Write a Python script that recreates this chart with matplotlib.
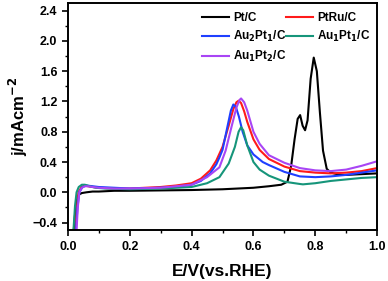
import matplotlib.pyplot as plt
from matplotlib.ticker import MultipleLocator

plt.rcParams['font.family'] = ['Liberation Sans', 'DejaVu Sans']
plt.rcParams['font.weight'] = 'bold'
plt.rcParams['mathtext.default'] = 'bf'

# Pt/C
pt_x = [0.019, 0.024, 0.029, 0.036, 0.045, 0.06, 0.08, 0.1, 0.15, 0.2, 0.3, 0.4, 0.5, 0.6, 0.65,
        0.69, 0.71, 0.722, 0.733, 0.743, 0.751, 0.759, 0.767, 0.775, 0.785, 0.795, 0.805, 0.815,
        0.825, 0.837, 0.85, 0.88, 0.9, 0.95, 1.0]
pt_y = [-0.5, -0.25, -0.1, -0.03, -0.01, 0.0, 0.01, 0.01, 0.02, 0.02, 0.025, 0.03, 0.04, 0.06, 0.08,
        0.1, 0.14, 0.35, 0.7, 0.97, 1.02, 0.88, 0.82, 0.95, 1.5, 1.78, 1.6, 1.05,
        0.55, 0.31, 0.26, 0.23, 0.23, 0.24, 0.25]

# PtRu/C
ru_x = [0.024, 0.029, 0.034, 0.044, 0.055, 0.065, 0.08, 0.1, 0.15, 0.2, 0.25, 0.3, 0.35, 0.4,
        0.43, 0.46, 0.48, 0.49, 0.5, 0.52, 0.535, 0.545, 0.552, 0.56, 0.57, 0.58, 0.6, 0.62,
        0.65, 0.7, 0.75, 0.8, 0.85, 0.9, 0.95, 1.0]
ru_y = [-0.5, -0.2, 0.0, 0.07, 0.09, 0.08, 0.07, 0.06, 0.05, 0.05, 0.06, 0.07, 0.09, 0.12,
        0.18, 0.29, 0.42, 0.51, 0.6, 0.88, 1.1, 1.19, 1.21, 1.18, 1.07, 0.93, 0.7, 0.56,
        0.44, 0.34, 0.28, 0.26, 0.25, 0.26, 0.28, 0.32]

# Au2Pt1/C
a21_x = [0.026, 0.031, 0.037, 0.047, 0.06, 0.08, 0.1, 0.15, 0.2, 0.3, 0.35, 0.4, 0.43, 0.46,
         0.48, 0.49, 0.5, 0.515, 0.527, 0.535, 0.543, 0.553, 0.565, 0.58, 0.6, 0.63, 0.65,
         0.7, 0.75, 0.8, 0.85, 0.9, 0.95, 1.0]
a21_y = [-0.5, -0.2, 0.0, 0.07, 0.09, 0.08, 0.07, 0.06, 0.05, 0.06, 0.07, 0.1, 0.15, 0.25,
         0.37, 0.46, 0.56, 0.85, 1.08, 1.16, 1.13, 1.0, 0.8, 0.62, 0.5, 0.4, 0.36,
         0.27, 0.21, 0.2, 0.21, 0.23, 0.26, 0.29]

# Au1Pt1/C
a11_x = [0.018, 0.023, 0.028, 0.035, 0.045, 0.055, 0.07, 0.09, 0.12, 0.2, 0.3, 0.4, 0.45,
         0.49, 0.52, 0.54, 0.552, 0.56, 0.567, 0.58, 0.6, 0.62, 0.65, 0.7, 0.75, 0.76, 0.8,
         0.85, 0.9, 0.95, 1.0]
a11_y = [-0.5, -0.18, 0.0, 0.07, 0.1, 0.1, 0.08, 0.06, 0.05, 0.04, 0.05, 0.07, 0.12,
         0.2, 0.38, 0.6, 0.8, 0.86, 0.82, 0.62, 0.4, 0.3, 0.22, 0.14, 0.11, 0.105, 0.12,
         0.15, 0.17, 0.19, 0.2]

# Au1Pt2/C
a12_x = [0.028, 0.032, 0.037, 0.045, 0.055, 0.065, 0.08, 0.1, 0.15, 0.2, 0.3, 0.4, 0.45,
         0.49, 0.51, 0.53, 0.545, 0.555, 0.56, 0.57, 0.58, 0.6, 0.62, 0.65, 0.7, 0.75, 0.8,
         0.85, 0.9, 0.95, 1.0]
a12_y = [-0.5, -0.2, 0.0, 0.06, 0.08, 0.08, 0.07, 0.06, 0.05, 0.05, 0.06, 0.1, 0.2,
         0.33, 0.55, 0.88, 1.12, 1.22, 1.24, 1.19, 1.08, 0.8, 0.64, 0.49, 0.39, 0.32, 0.29,
         0.28, 0.3, 0.35, 0.41]

fig = plt.figure(figsize=(3.88, 2.81), dpi=100)
ax = fig.add_axes([0.175, 0.181, 0.797, 0.808])

lw = 1.5
l_pt, = ax.plot(pt_x, pt_y, color='black', lw=lw, label='Pt/C')
l_ru, = ax.plot(ru_x, ru_y, color='#ff1a1a', lw=lw, label='PtRu/C')
l_21, = ax.plot(a21_x, a21_y, color='#1f3fff', lw=lw, label=r'Au$_2$Pt$_1$/C')
l_11, = ax.plot(a11_x, a11_y, color='#16957a', lw=lw, label=r'Au$_1$Pt$_1$/C')
l_12, = ax.plot(a12_x, a12_y, color='#a845f5', lw=lw, label=r'Au$_1$Pt$_2$/C')

ax.set_xlim(0, 1.0)
ax.set_ylim(-0.5, 2.5)
ax.xaxis.set_major_locator(MultipleLocator(0.2))
ax.xaxis.set_minor_locator(MultipleLocator(0.1))
ax.yaxis.set_major_locator(MultipleLocator(0.4))
ax.yaxis.set_minor_locator(MultipleLocator(0.2))
ax.tick_params(which='major', length=4, width=1.2, labelsize=9)
ax.tick_params(which='minor', length=2, width=1.0)
for s in ax.spines.values():
    s.set_linewidth(1.4)

ax.set_xlabel('E/V(vs.RHE)', fontsize=12.5, fontweight='bold', labelpad=8)
ax.set_ylabel('j/mAcm$^{-2}$', fontsize=12, fontweight='bold', labelpad=2)

# row-major order in a 2-column legend
handles = [l_pt, l_21, l_12, l_ru, l_11]
ax.legend(handles=handles, labels=[h.get_label() for h in handles],
          ncol=2, loc='upper right', bbox_to_anchor=(1.0, 0.99), frameon=False, fontsize=8.5,
          handlelength=2.3, handletextpad=0.3, columnspacing=0.0,
          labelspacing=0.4, borderaxespad=0.2)

fig.savefig('out.png', dpi=100)
